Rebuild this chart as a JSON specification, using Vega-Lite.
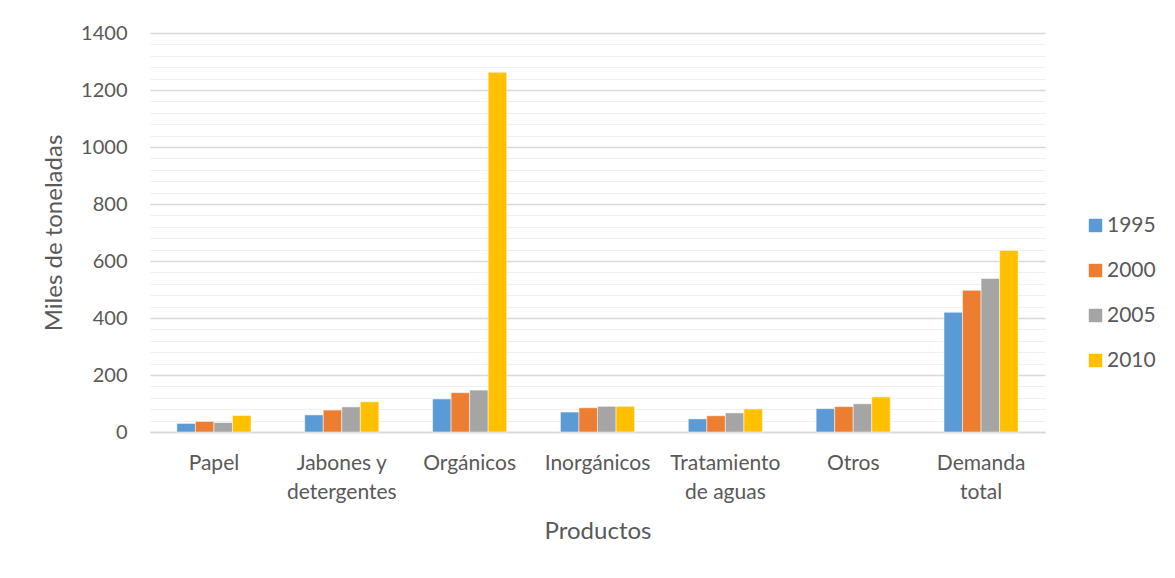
{
  "$schema": "https://vega.github.io/schema/vega-lite/v6.json",
  "width": 895,
  "height": 399,
  "autosize": {"type": "none"},
  "padding": {"left": 150, "top": 33, "right": 130, "bottom": 146},
  "background": "white",
  "config": {
    "font": "Lato",
    "view": {"stroke": null},
    "axis": {"labelColor": "#595959", "titleColor": "#595959", "titleFontWeight": "normal"}
  },
  "data": {
    "values": [
      {"producto": "Papel", "anio": "1995", "valor": 30},
      {"producto": "Papel", "anio": "2000", "valor": 37},
      {"producto": "Papel", "anio": "2005", "valor": 33},
      {"producto": "Papel", "anio": "2010", "valor": 58},
      {"producto": "Jabones y detergentes", "anio": "1995", "valor": 60},
      {"producto": "Jabones y detergentes", "anio": "2000", "valor": 77},
      {"producto": "Jabones y detergentes", "anio": "2005", "valor": 88},
      {"producto": "Jabones y detergentes", "anio": "2010", "valor": 106},
      {"producto": "Orgánicos", "anio": "1995", "valor": 116},
      {"producto": "Orgánicos", "anio": "2000", "valor": 138},
      {"producto": "Orgánicos", "anio": "2005", "valor": 147},
      {"producto": "Orgánicos", "anio": "2010", "valor": 1262},
      {"producto": "Inorgánicos", "anio": "1995", "valor": 70},
      {"producto": "Inorgánicos", "anio": "2000", "valor": 85},
      {"producto": "Inorgánicos", "anio": "2005", "valor": 90},
      {"producto": "Inorgánicos", "anio": "2010", "valor": 90},
      {"producto": "Tratamiento de aguas", "anio": "1995", "valor": 46},
      {"producto": "Tratamiento de aguas", "anio": "2000", "valor": 57},
      {"producto": "Tratamiento de aguas", "anio": "2005", "valor": 67},
      {"producto": "Tratamiento de aguas", "anio": "2010", "valor": 81},
      {"producto": "Otros", "anio": "1995", "valor": 82},
      {"producto": "Otros", "anio": "2000", "valor": 89},
      {"producto": "Otros", "anio": "2005", "valor": 99},
      {"producto": "Otros", "anio": "2010", "valor": 123},
      {"producto": "Demanda total", "anio": "1995", "valor": 420},
      {"producto": "Demanda total", "anio": "2000", "valor": 497},
      {"producto": "Demanda total", "anio": "2005", "valor": 539},
      {"producto": "Demanda total", "anio": "2010", "valor": 637}
    ]
  },
  "mark": {"type": "bar", "stroke": "white", "strokeWidth": 0.5},
  "encoding": {
    "x": {
      "field": "producto",
      "type": "nominal",
      "sort": null,
      "scale": {"paddingInner": 0.42, "paddingOuter": 0.21},
      "axis": {
        "title": "Productos",
        "titleFontSize": 24,
        "titlePadding": 17,
        "labelFontSize": 21,
        "labelAngle": 0,
        "labelPadding": 20,
        "labelLineHeight": 29,
        "labelExpr": "datum.label == 'Jabones y detergentes' ? ['Jabones y', 'detergentes'] : datum.label == 'Tratamiento de aguas' ? ['Tratamiento', 'de aguas'] : datum.label == 'Demanda total' ? ['Demanda', 'total'] : datum.label",
        "ticks": false,
        "domainColor": "#d9d9d9",
        "domainWidth": 1.5
      }
    },
    "xOffset": {"field": "anio", "type": "nominal"},
    "y": {
      "field": "valor",
      "type": "quantitative",
      "scale": {"domain": [0, 1400], "nice": false},
      "axis": {
        "title": "Miles de toneladas",
        "titleFontSize": 24,
        "titlePadding": 14,
        "labelFontSize": 20,
        "labelPadding": 23,
        "values": [0, 40, 80, 120, 160, 200, 240, 280, 320, 360, 400, 440, 480, 520, 560, 600, 640, 680, 720, 760, 800, 840, 880, 920, 960, 1000, 1040, 1080, 1120, 1160, 1200, 1240, 1280, 1320, 1360, 1400],
        "labelExpr": "datum.value % 200 === 0 ? datum.label : ''",
        "format": "d",
        "ticks": false,
        "domain": false,
        "grid": true,
        "gridColor": {"condition": {"test": "datum.value % 200 === 0", "value": "#d9d9d9"}, "value": "#f0f0f0"},
        "gridWidth": {"condition": {"test": "datum.value % 200 === 0", "value": 1.3}, "value": 1}
      }
    },
    "color": {
      "field": "anio",
      "type": "nominal",
      "scale": {"domain": ["1995", "2000", "2005", "2010"], "range": ["#5B9BD5", "#ED7D31", "#A5A5A5", "#FFC000"]},
      "legend": {
        "title": null,
        "orient": "none",
        "legendX": 935,
        "legendY": 182,
        "symbolType": "square",
        "symbolSize": 180,
        "symbolStrokeWidth": 0,
        "labelFontSize": 21,
        "labelColor": "#595959",
        "rowPadding": 23,
        "labelOffset": 1
      }
    }
  }
}
